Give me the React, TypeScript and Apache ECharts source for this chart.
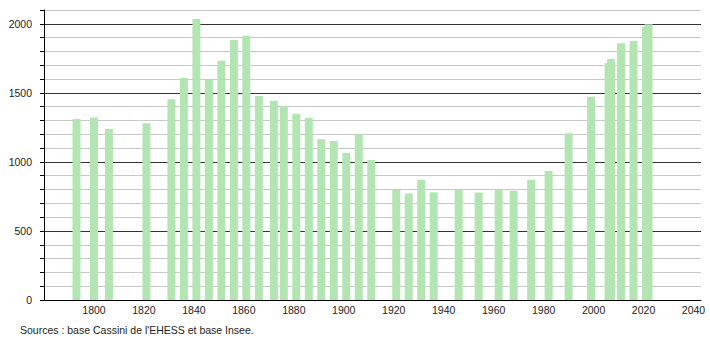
import React, { useEffect, useRef } from "react";
import * as echarts from "echarts";

const years = [1793, 1800, 1806, 1821, 1831, 1836, 1841, 1846, 1851, 1856, 1861, 1866, 1872, 1876, 1881, 1886, 1891, 1896, 1901, 1906, 1911, 1921, 1926, 1931, 1936, 1946, 1954, 1962, 1968, 1975, 1982, 1990, 1999, 2006, 2007, 2011, 2016, 2021, 2022];
const population = [1311, 1321, 1239, 1280, 1454, 1609, 2034, 1594, 1732, 1883, 1913, 1478, 1442, 1406, 1348, 1319, 1164, 1152, 1065, 1200, 1014, 797, 771, 870, 780, 797, 778, 797, 792, 870, 935, 1208, 1471, 1717, 1745, 1860, 1876, 1980, 1997];
const yLabelValues = [0, 500, 1000, 1500, 2000];
const sourceText = "Sources : base Cassini de l'EHESS et base Insee.";

export default function App() {
  const ref = useRef<HTMLDivElement>(null);
  useEffect(() => {
    if (!ref.current) return;
    const chart = echarts.init(ref.current, null, { renderer: "svg" });
    const font = "'Liberation Sans', Arial, sans-serif";
    chart.setOption({
      animation: false,
      backgroundColor: "#ffffff",
      grid: { left: 44, right: 9, top: 10, bottom: 40, containLabel: false },
      xAxis: {
        type: "value",
        min: 1780,
        max: 2043,
        interval: 20,
        axisLine: { show: true, lineStyle: { color: "#000", width: 1 } },
        axisTick: { show: false },
        splitLine: { show: false },
        axisLabel: {
          color: "#222",
          fontSize: 10.5,
          fontFamily: font,
          margin: 4,
          showMinLabel: false,
          showMaxLabel: false,
          formatter: (v: number) => (v === 1780 ? "" : String(v)),
        },
      },
      yAxis: {
        type: "value",
        min: 0,
        max: 2100,
        interval: 100,
        axisLine: { show: true, lineStyle: { color: "#000", width: 1 } },
        axisTick: { show: true, length: 4, lineStyle: { color: "#000", width: 1 } },
        splitLine: {
          show: true,
          lineStyle: { color: ["#333", "#c8c8c8", "#c8c8c8", "#c8c8c8", "#c8c8c8"], width: 1 },
        },
        axisLabel: {
          color: "#222",
          fontSize: 10.5,
          fontFamily: font,
          margin: 12,
          formatter: (v: number) => (yLabelValues.includes(v) ? String(v) : ""),
        },
      },
      series: [
        {
          type: "bar",
          data: years.map((y, i) => [y, population[i]]),
          barWidth: 8,
          itemStyle: { color: "#b3e5b3" },
        },
      ],
      graphic: [
        {
          type: "text",
          left: 20,
          top: 324,
          style: { text: sourceText, fill: "#222", font: `10.5px ${font}` },
        },
      ],
    });
    return () => chart.dispose();
  }, []);
  return (
    <div
      ref={ref}
      style={{ position: "fixed", left: 0, top: 0, width: 710, height: 340 }}
    />
  );
}
